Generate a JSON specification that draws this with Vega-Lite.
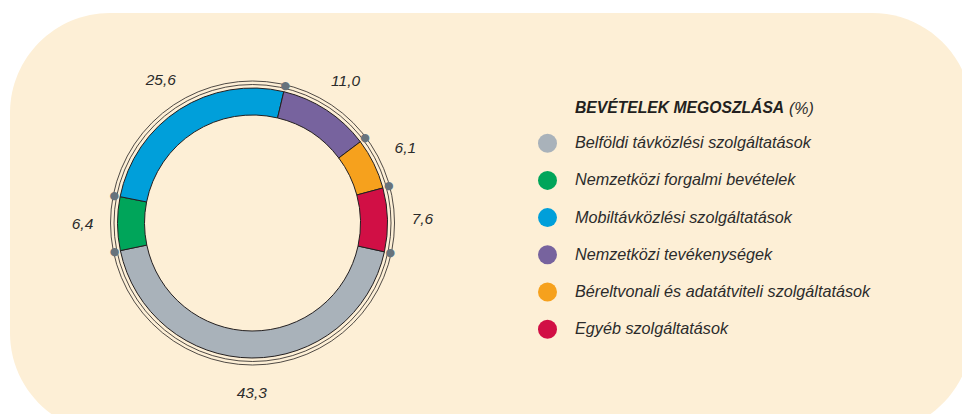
{
  "$schema": "https://vega.github.io/schema/vega-lite/v6.json",
  "width": 962,
  "height": 420,
  "autosize": {"type": "none"},
  "padding": {"left": 10, "top": 13, "right": -10, "bottom": -19},
  "background": "#ffffff",
  "view": {"fill": "#fdefd6", "stroke": null, "cornerRadius": 100},
  "title": {
    "text": "(%)",
    "anchor": "start",
    "frame": "group",
    "orient": "top",
    "dx": 779,
    "dy": 108,
    "font": "Liberation Sans",
    "fontSize": 16,
    "fontStyle": "italic",
    "fontWeight": "normal",
    "color": "#2b2b2b"
  },
  "datasets": {
    "rev": [
      {"category": "Belföldi távközlési szolgáltatások", "value": 43.3, "order": 4},
      {"category": "Nemzetközi forgalmi bevételek", "value": 6.4, "order": 5},
      {"category": "Mobiltávközlési szolgáltatások", "value": 25.6, "order": 6},
      {"category": "Nemzetközi tevékenységek", "value": 11.0, "order": 1},
      {"category": "Béreltvonali és adatátviteli szolgáltatások", "value": 6.1, "order": 2},
      {"category": "Egyéb szolgáltatások", "value": 7.6, "order": 3}
    ]
  },
  "data": {"name": "rev"},
  "encoding": {
    "x": {"datum": 0.2521, "type": "quantitative", "scale": {"domain": [0, 1]}, "axis": null},
    "y": {"datum": 0.5, "type": "quantitative", "scale": {"domain": [0, 1]}, "axis": null}
  },
  "layer": [
    {
      "data": {"values": [{"ring": "outer"}]},
      "mark": {"type": "arc", "innerRadius": 138.5, "outerRadius": 142, "fill": null, "fillOpacity": 0, "stroke": "#231f20", "strokeWidth": 0.8},
      "encoding": {
        "theta": {"value": 0},
        "theta2": {"value": 6.2832}
      }
    },
    {
      "mark": {"type": "arc", "innerRadius": 108, "outerRadius": 135, "stroke": "#231f20", "strokeWidth": 1},
      "encoding": {
        "theta": {"field": "value", "type": "quantitative", "stack": true, "scale": {"domain": [0, 100], "range": [0.2339, 6.5171]}},
        "order": {"field": "order", "type": "quantitative"},
        "color": {
          "field": "category",
          "type": "nominal",
          "scale": {
            "domain": [
              "Belföldi távközlési szolgáltatások",
              "Nemzetközi forgalmi bevételek",
              "Mobiltávközlési szolgáltatások",
              "Nemzetközi tevékenységek",
              "Béreltvonali és adatátviteli szolgáltatások",
              "Egyéb szolgáltatások"
            ],
            "range": ["#a9b2ba", "#00a55a", "#009fda", "#77639e", "#f6a11d", "#d10f45"]
          },
          "legend": {
            "title": "BEVÉTELEK MEGOSZLÁSA",
            "orient": "none",
            "legendX": 565,
            "legendY": 88,
            "titleFont": "Liberation Sans",
            "titleFontSize": 15.7,
            "titleFontStyle": "italic",
            "titleFontWeight": "bold",
            "titleColor": "#231f20",
            "titleLimit": 600,
            "titlePadding": 17,
            "labelFont": "Liberation Sans",
            "labelFontSize": 16.2,
            "labelFontStyle": "italic",
            "labelColor": "#2b2b2b",
            "labelLimit": 500,
            "symbolType": "circle",
            "symbolSize": 361,
            "symbolStrokeWidth": 0,
            "symbolOpacity": 1,
            "rowPadding": 18.2,
            "labelOffset": 18,
            "symbolOffset": -37
          }
        }
      }
    },
    {
      "mark": {"type": "text", "radius": 170, "font": "Liberation Sans", "fontSize": 15.5, "fontStyle": "italic", "color": "#2b2b2b", "baseline": "middle", "align": "center"},
      "encoding": {
        "theta": {"field": "value", "type": "quantitative", "stack": true},
        "order": {"field": "order", "type": "quantitative"},
        "text": {"field": "value", "type": "quantitative", "format": ".1f"}
      }
    },
    {
      "transform": [
        {"stack": "value", "groupby": [], "sort": [{"field": "order", "order": "ascending"}], "as": ["v0", "v1"]}
      ],
      "mark": {"type": "text", "text": "●", "radius": 141, "font": "DejaVu Sans", "fontSize": 11, "color": "#67737c", "baseline": "middle", "align": "center"},
      "encoding": {
        "theta": {"field": "v1", "type": "quantitative", "stack": null}
      }
    }
  ],
  "config": {
    "locale": {"number": {"decimal": ",", "thousands": " ", "grouping": [3], "currency": ["", ""]}}
  }
}
